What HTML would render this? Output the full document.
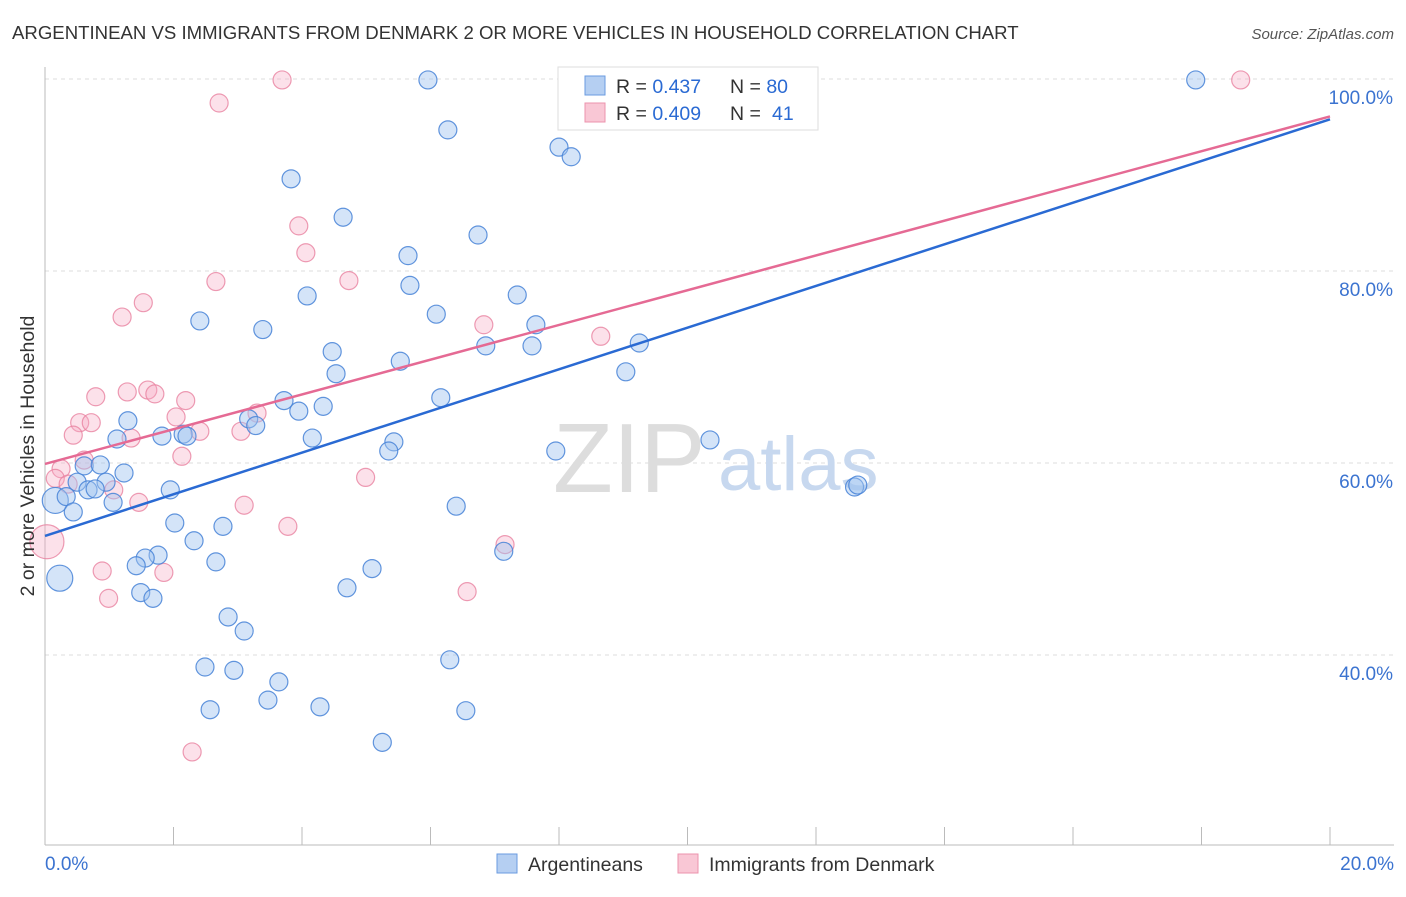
<!DOCTYPE html>
<html><head><meta charset="utf-8"><style>
body{margin:0;background:#fff;font-family:"Liberation Sans",sans-serif}
svg text{font-family:"Liberation Sans",sans-serif}
</style></head><body>
<svg id="chart" width="1406" height="892">
<text x="12" y="39" font-size="18.6" fill="#333">ARGENTINEAN VS IMMIGRANTS FROM DENMARK 2 OR MORE VEHICLES IN HOUSEHOLD CORRELATION CHART</text>
<text x="1394" y="39" font-size="15" fill="#555" font-style="italic" text-anchor="end">Source: ZipAtlas.com</text>
<g id="grid"></g>
<g>
<text x="553" y="492" font-size="98" fill="#ddd" font-family="Liberation Serif">ZIP</text>
<text x="718" y="490" font-size="76" fill="#c7d8ef">atlas</text>
</g>
<g id="pts"></g>
<g id="lines"></g>
<text transform="translate(34,456) rotate(-90)" font-size="19.5" fill="#333" text-anchor="middle">2 or more Vehicles in Household</text>
<g>
<rect x="558" y="67" width="260" height="63" fill="#fff" stroke="#ddd"/>
<rect x="585" y="76" width="20" height="19" fill="#b5cff2" stroke="#6a9be0"/>
<rect x="585" y="103" width="20" height="19" fill="#f9c7d5" stroke="#ec93ad"/>
<text x="616" y="93" font-size="19.5" fill="#333">R = <tspan fill="#2a6ad3">0.437</tspan></text>
<text x="730" y="93" font-size="19.5" fill="#333">N = <tspan fill="#2a6ad3">80</tspan></text>
<text x="616" y="120" font-size="19.5" fill="#333">R = <tspan fill="#2a6ad3">0.409</tspan></text>
<text x="730" y="120" font-size="19.5" fill="#333">N = <tspan x="772" fill="#2a6ad3">41</tspan></text>
</g>
<g>
<rect x="497" y="854" width="20" height="19" fill="#b5cff2" stroke="#6a9be0"/>
<text x="528" y="871" font-size="19.5" fill="#333">Argentineans</text>
<rect x="678" y="854" width="20" height="19" fill="#f9c7d5" stroke="#ec93ad"/>
<text x="709" y="871" font-size="19.5" fill="#333">Immigrants from Denmark</text>
</g>
</svg>
<script>
const blueX=[5.96,17.91,6.27,8.0,8.19,3.83,4.64,6.74,5.65,5.68,4.08,7.35,2.41,6.09,7.64,3.39,6.86,7.58,9.25,4.47,5.53,4.53,9.04,3.72,6.16,4.33,3.95,1.29,3.17,3.28,1.12,1.82,2.15,2.21,4.16,5.43,5.35,10.35,7.95,0.61,0.86,1.23,0.5,0.95,0.67,0.78,1.95,0.16,0.33,1.06,0.44,12.6,12.65,6.4,2.02,2.77,2.32,1.76,1.56,1.42,2.66,5.09,7.14,0.23,1.49,1.68,4.7,2.85,3.1,6.3,2.49,2.94,3.64,2.57,3.47,4.28,6.55,5.25];
const blueY=[99.9,99.9,94.7,92.9,91.9,89.6,85.6,83.75,81.6,78.5,77.4,77.5,74.8,75.5,74.4,73.9,72.2,72.2,72.5,71.6,70.6,69.3,69.5,66.5,66.8,65.9,65.4,64.4,64.6,63.9,62.5,62.8,63.0,62.8,62.6,62.2,61.25,62.4,61.25,59.7,59.8,58.96,58.0,58.0,57.2,57.3,57.2,56.1,56.5,55.9,54.9,57.5,57.7,55.5,53.75,53.4,51.9,50.4,50.1,49.3,49.7,49.0,50.8,48.0,46.5,45.9,47.0,43.96,42.5,39.5,38.75,38.4,37.2,34.3,35.3,34.6,34.2,30.9];
const blueBig=[47,63];
const pinkX=[3.69,18.61,2.71,3.95,4.06,2.66,4.73,1.53,1.2,6.83,8.65,0.79,1.28,1.6,1.71,2.19,0.54,0.72,2.04,3.3,0.44,1.34,2.41,3.05,2.13,0.61,0.25,0.16,0.36,1.07,4.99,1.46,3.1,3.78,7.16,0.03,0.89,1.85,0.99,6.57,2.29];
const pinkY=[99.9,99.9,97.5,84.7,81.9,78.9,79.0,76.7,75.2,74.4,73.2,66.9,67.4,67.6,67.2,66.5,64.2,64.2,64.8,65.2,62.9,62.6,63.3,63.3,60.7,60.3,59.4,58.4,57.8,57.2,58.5,55.9,55.6,53.4,51.5,51.8,48.75,48.6,45.9,46.6,29.9];
const pinkBig=[35];
const blueTrend=[52.4,95.8];
const pinkTrend=[59.9,96.1];
const yTicks=[40,60,80,100];
const xTickLabels=["0.0%","20.0%"];
const NS="http://www.w3.org/2000/svg";
const sx=v=>45+v*64.25, sy=v=>1039-v*9.6;
function mk(t,a,p){const e=document.createElementNS(NS,t);for(const k in a)e.setAttribute(k,a[k]);p.appendChild(e);return e;}
const grid=document.getElementById('grid');
yTicks.forEach(v=>{
 const l=mk('line',{x1:45,x2:1394,y1:sy(v),y2:sy(v),stroke:'#ddd','stroke-dasharray':'4,4'},grid);
 
 
 const t=mk('text',{x:1393,y:sy(v)+25,'font-size':19,fill:'#3b73d0','text-anchor':'end'},grid);
 t.textContent=v.toFixed(1)+'%';
 
 
});
const ax=mk('line',{x1:45,x2:1394,y1:845,y2:845,stroke:'#bbb'},grid);


const ay=mk('line',{x1:45,x2:45,y1:67,y2:845,stroke:'#bbb'},grid);


for(let i=0;i<=10;i++){const x=sx(i*2);
 const tk=mk('line',{x1:x,x2:x,y1:827,y2:845,stroke:'#bbb'},grid);
 
 }
[[0,45,'start'],[20,1394,'end']].forEach((d,i)=>{
 const t=mk('text',{x:d[1],y:870,'font-size':19,fill:'#3b73d0','text-anchor':d[2]},grid);
 t.textContent=xTickLabels[i];
 
 
});
const pts=document.getElementById('pts');
function draw(X,Y,big,fill,stroke,name){X.forEach((x,i)=>{
 const r=big.includes(i)?(name==='pink'?17:13):9;
 const c=mk('circle',{cx:sx(x),cy:sy(Y[i]),r:r,fill:fill,stroke:stroke,'stroke-width':1.2},pts);
 
 
});}
draw(pinkX,pinkY,pinkBig,'rgba(245,170,195,0.35)','rgba(232,130,160,0.8)','pink');
draw(blueX,blueY,blueBig,'rgba(160,195,240,0.45)','rgba(70,130,215,0.85)','blue');
const lines=document.getElementById('lines');
const pl=mk('line',{x1:sx(0),y1:sy(pinkTrend[0]),x2:sx(20),y2:sy(pinkTrend[1]),stroke:'#e56a94','stroke-width':2.5},lines);


const bl=mk('line',{x1:sx(0),y1:sy(blueTrend[0]),x2:sx(20),y2:sy(blueTrend[1]),stroke:'#2a6ad3','stroke-width':2.5},lines);


</script>
</body></html>
